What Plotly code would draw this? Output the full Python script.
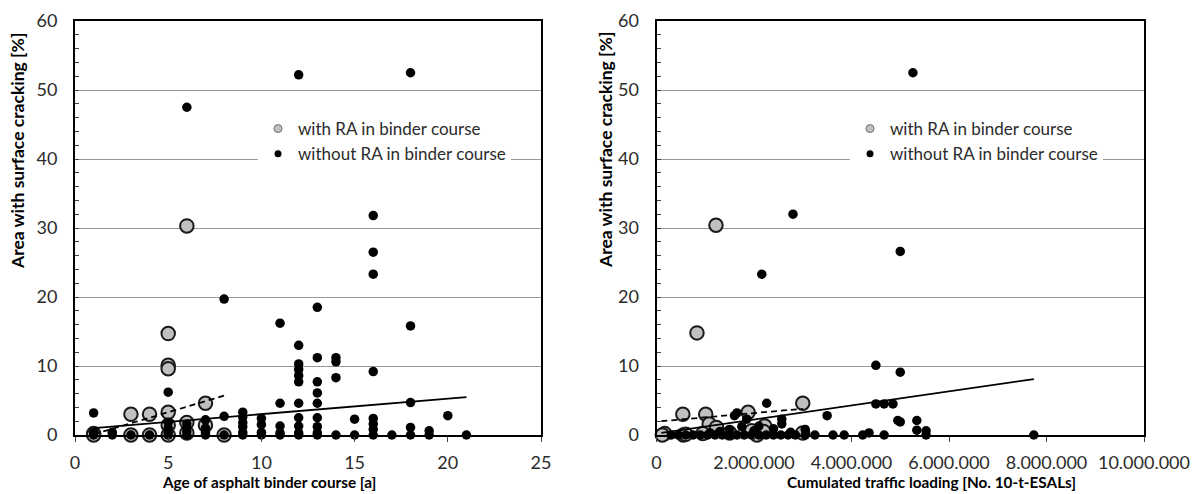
import plotly.graph_objects as go

# ---------------- data ----------------
# Left panel: age of asphalt binder course [a] vs. area with surface cracking [%]
age_with_ra = [1, 1, 3, 3, 4, 4, 5, 5, 5, 5, 5, 5, 6, 6, 6, 7, 7, 8]
crack_with_ra_age = [0.2, 0, 3.0, 0, 3.0, 0, 14.7, 10.1, 9.6, 3.3, 1.4, 0, 30.3, 1.8, 0.3, 4.6, 1.4, 0]

age_without_ra = (
    [1] * 3 + [2] * 2 + [3] + [4] + [5] * 5 + [6] * 5 + [7] * 4 + [8] * 3 + [9] * 6 + [10] * 4
    + [11] * 5 + [12] * 11 + [13] * 9 + [14] * 4 + [15] * 2 + [16] * 8 + [17] + [18] * 5
    + [19] * 2 + [20] + [21]
)
crack_without_ra_age = (
    [3.2, 0.3, 0] + [0.4, 0] + [0] + [0] + [6.2, 1.8, 1.0, 0.4, 0] + [47.5, 1.6, 1.0, 0.5, 0]
    + [2.2, 1.0, 0.3, 0] + [19.7, 2.7, 0] + [3.3, 2.6, 1.8, 1.2, 0.4, 0] + [2.4, 1.5, 0.4, 0]
    + [16.2, 4.6, 1.3, 0.3, 0] + [52.2, 13.0, 10.3, 9.5, 8.6, 7.7, 4.6, 2.5, 1.3, 0.3, 0]
    + [18.5, 11.2, 7.7, 6.1, 4.6, 2.5, 1.2, 0.3, 0] + [11.2, 10.6, 8.3, 0] + [2.3, 0]
    + [31.8, 26.5, 23.3, 9.2, 2.4, 1.6, 0.8, 0] + [0] + [52.5, 15.8, 4.7, 1.1, 0]
    + [0.6, 0] + [2.8] + [0]
)

# trend lines (end points)
trend_age_without_x = [1, 21]
trend_age_without_y = [1.0, 5.5]
trend_age_with_x = [1, 8]
trend_age_with_y = [0.1, 5.7]

# Right panel: cumulated traffic loading [No. 10-t-ESALs] vs. area with surface cracking [%]
esal_with_ra = [1220000, 830000, 540000, 1010000, 1880000, 3000000, 1080000, 1230000, 2220000,
                2060000, 170000, 120000, 550000, 600000, 3000000, 2200000, 1500000, 950000, 1950000]
crack_with_ra_esal = [30.4, 14.8, 3.0, 3.0, 3.3, 4.6, 1.6, 1.1, 1.3,
                      0, 0.2, 0, 0, 0.1, 0.3, 0.5, 0.3, 0.2, 0.6]

esal_without_ra = [5260000, 2800000, 2160000, 5000000, 5000000, 4500000, 4500000, 4670000, 4850000,
                   4950000, 5000000, 5340000, 5340000, 5530000, 5530000, 3500000, 7740000, 4670000,
                   3620000, 3850000, 4230000, 4360000, 2260000, 2570000, 2570000, 1650000, 1600000,
                   1850000,
                   300000, 450000, 600000, 750000, 900000, 1050000, 1200000, 1350000, 1500000,
                   1650000, 1800000, 1950000, 2100000, 2250000, 2400000, 2550000, 2700000, 2850000,
                   3050000, 3250000,
                   1300000, 1500000, 2000000, 2400000, 1100000, 2750000, 3050000, 1750000, 2100000]
crack_without_ra_esal = [52.5, 32.0, 23.3, 26.6, 9.1, 10.1, 4.5, 4.5, 4.5,
                         2.1, 1.9, 2.1, 0.7, 0.6, 0, 2.8, 0, 0,
                         0, 0, 0, 0.3, 4.6, 2.3, 1.6, 3.2, 2.8,
                         2.3,
                         0, 0, 0, 0, 0, 0, 0, 0, 0,
                         0, 0, 0, 0, 0, 0, 0, 0, 0,
                         0, 0,
                         0.5, 0.8, 0.6, 0.9, 0.3, 0.4, 0.8, 1.2, 1.3]

trend_esal_without_x = [100000, 7740000]
trend_esal_without_y = [0.3, 8.1]
trend_esal_with_x = [100000, 3000000]
trend_esal_with_y = [2.0, 3.8]

esal_tickvals = [0, 2000000, 4000000, 6000000, 8000000, 10000000]
esal_ticktext = ["0", "2.000.000", "4.000.000", "6.000.000", "8.000.000", "10.000.000"]

series_names = ["with RA in binder course", "without RA in binder course"]
y_title = "Area with surface cracking [%]"
x_title_left = "Age of asphalt binder course [a]"
x_title_right = "Cumulated traffic loading [No. 10-t-ESALs]"

# ---------------- style ----------------
FONT = "Lato, 'Open Sans', sans-serif"
GRAY_FILL = "#c0c0c0"
GRAY_EDGE = "#1a1a1a"
TICK_COLOR = "#2b2b2b"

W, H = 1198, 494
def px_x(p):
    return p / W
def px_y(p):
    return 1 - p / H

fig = go.Figure()

panels = [
    ("x", "y", age_with_ra, crack_with_ra_age, age_without_ra, crack_without_ra_age,
     trend_age_with_x, trend_age_with_y, trend_age_without_x, trend_age_without_y, "legend"),
    ("x2", "y2", esal_with_ra, crack_with_ra_esal, esal_without_ra, crack_without_ra_esal,
     trend_esal_with_x, trend_esal_with_y, trend_esal_without_x, trend_esal_without_y, "legend2"),
]

for (xa, ya, xw, yw, xo, yo, twx, twy, tox, toy, lg) in panels:
    fig.add_trace(go.Scatter(
        x=xw, y=yw, xaxis=xa, yaxis=ya, mode="markers", showlegend=False,
        marker=dict(size=13.5, color=GRAY_FILL, line=dict(color=GRAY_EDGE, width=2)),
        cliponaxis=False, hoverinfo="skip"))
    fig.add_trace(go.Scatter(
        x=xo, y=yo, xaxis=xa, yaxis=ya, mode="markers", showlegend=False,
        marker=dict(size=9.5, color="#000000", line=dict(width=0)),
        cliponaxis=False, hoverinfo="skip"))
    fig.add_trace(go.Scatter(
        x=twx, y=twy, xaxis=xa, yaxis=ya, mode="lines", showlegend=False,
        line=dict(color="#000000", width=1.8, dash="6px,4px"), hoverinfo="skip"))
    fig.add_trace(go.Scatter(
        x=tox, y=toy, xaxis=xa, yaxis=ya, mode="lines", showlegend=False,
        line=dict(color="#000000", width=1.8), hoverinfo="skip"))
    # legend entries
    fig.add_trace(go.Scatter(
        x=[None], y=[None], xaxis=xa, yaxis=ya, mode="markers", name=series_names[0],
        legend=lg, marker=dict(size=8, color=GRAY_FILL, line=dict(color="#6e6e6e", width=1))))
    fig.add_trace(go.Scatter(
        x=[None], y=[None], xaxis=xa, yaxis=ya, mode="markers", name=series_names[1],
        legend=lg, marker=dict(size=7, color="#000000")))

yaxis_common = dict(
    range=[0, 60], dtick=10, tick0=0, ticks="inside", ticklen=4, tickwidth=1, tickcolor="#404040",
    minor=dict(dtick=2, ticks="inside", ticklen=4, tickwidth=1, tickcolor="#404040", showgrid=False),
    showgrid=True, gridcolor="#999999", gridwidth=1, zeroline=False,
    showline=True, linecolor="#000000", linewidth=2, mirror=True,
    tickfont=dict(family=FONT, size=18, color=TICK_COLOR), ticklabelstandoff=12,
    domain=[px_y(435), px_y(21)], fixedrange=True,
)
xaxis_common = dict(
    ticks="outside", ticklen=5, tickwidth=1, tickcolor="#404040",
    showgrid=False, zeroline=False,
    showline=True, linecolor="#000000", linewidth=2, mirror=True,
    tickfont=dict(family=FONT, size=18, color=TICK_COLOR), ticklabelstandoff=5,
    fixedrange=True,
)

legend_common = dict(
    bgcolor="#ffffff", borderwidth=0, font=dict(family=FONT, size=17, color=TICK_COLOR),
    xanchor="left", yanchor="top", itemwidth=30, tracegroupgap=0,
)

fig.update_layout(
    width=W, height=H, margin=dict(l=0, r=0, t=0, b=0, autoexpand=False),
    paper_bgcolor="#ffffff", plot_bgcolor="#ffffff",
    xaxis=dict(range=[0, 25], dtick=5, tick0=0, domain=[px_x(75), px_x(541)], anchor="y", **xaxis_common),
    xaxis2=dict(range=[0, 10000000], tickvals=esal_tickvals, ticktext=esal_ticktext,
                domain=[px_x(656.5), px_x(1144)], anchor="y2", **xaxis_common),
    yaxis=dict(anchor="x", **yaxis_common),
    yaxis2=dict(anchor="x2", **yaxis_common),
    legend=dict(x=px_x(258), y=px_y(111), **legend_common),
    legend2=dict(x=px_x(850), y=px_y(111), **legend_common),
    annotations=[
        dict(text=f"<b>{x_title_left}</b>", x=px_x(269), y=px_y(482), xref="paper", yref="paper",
             xanchor="center", yanchor="middle",
             showarrow=False, font=dict(family=FONT, size=15.3, color="#000000")),
        dict(text=f"<b>{x_title_right}</b>", x=px_x(931), y=px_y(482), xref="paper", yref="paper",
             xanchor="center", yanchor="middle",
             showarrow=False, font=dict(family=FONT, size=15.3, color="#000000")),
        dict(text=f"<b>{y_title}</b>", x=px_x(18), y=px_y(151), xref="paper", yref="paper",
             xanchor="center", yanchor="middle",
             showarrow=False, textangle=-90, font=dict(family=FONT, size=17.5, color="#000000")),
        dict(text=f"<b>{y_title}</b>", x=px_x(605), y=px_y(150), xref="paper", yref="paper",
             xanchor="center", yanchor="middle",
             showarrow=False, textangle=-90, font=dict(family=FONT, size=17.5, color="#000000")),
    ],
    showlegend=True,
)

fig.write_html("out.html")
